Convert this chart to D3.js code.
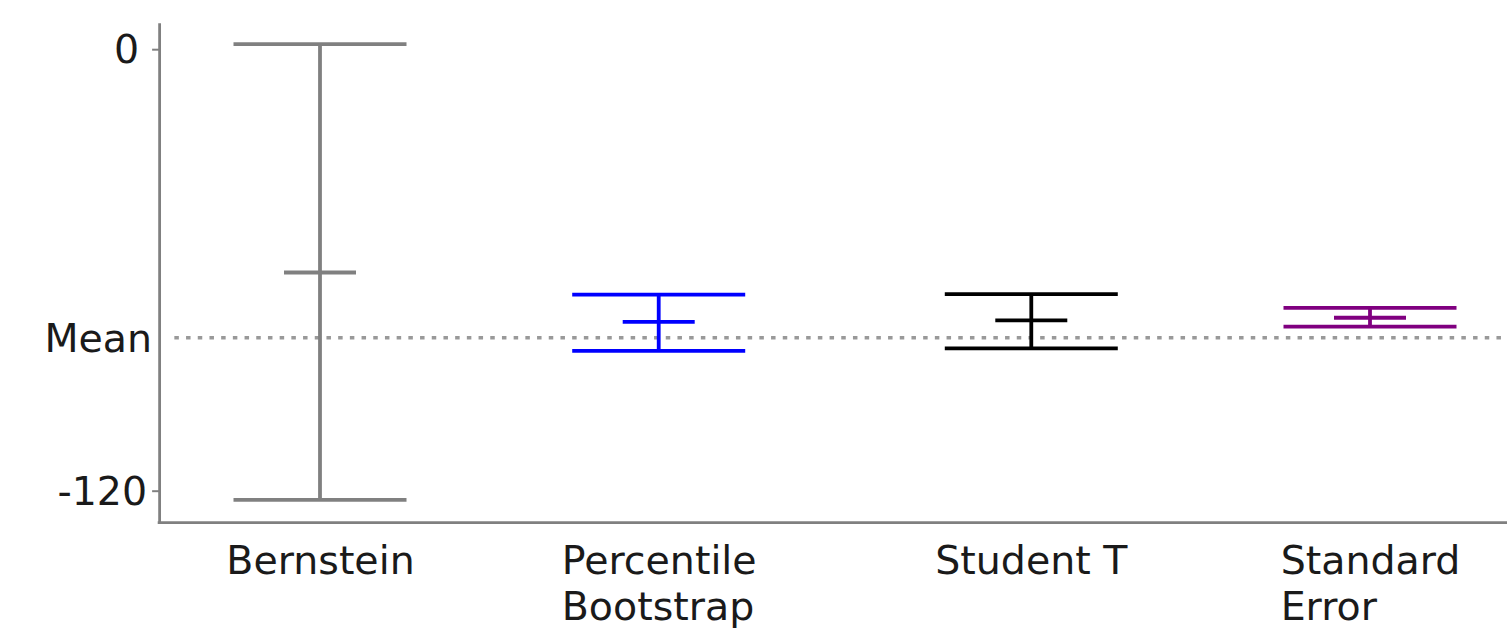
<!DOCTYPE html>
<html lang="en">
<head>
  <meta charset="UTF-8">
  <title>Confidence intervals</title>
  <style>
    html, body { margin: 0; padding: 0; background: #fff; }
    #main { width: 1507px; height: 629px; }
    text { font-family: "DejaVu Sans", sans-serif; fill: #1a1a1a; }
  </style>
</head>
<body>
  <div id="main"></div>
  <script src="https://d3js.org/d3.v7.min.js"></script>
  <script>
    // data
    const methods = ['Bernstein', 'Percentile\nBootstrap', 'Student T', 'Standard\nError'];
    const xPos = [0, 1, 2.1, 3.1];
    const upper = [1.4, -66.7, -66.6, -70.3];
    const center = [-60.7, -74.1, -73.7, -73.0];
    const lower = [-122.5, -82.0, -81.3, -75.4];
    const meanValue = -78.4;
    const yTickValues = [0, meanValue, -120];
    const yTickLabels = ['0', 'Mean', '-120'];
    const colors = ['#808080', '#0000ff', '#000000', '#800080'];

    const [width, height] = [1507, 629];
    const svg = d3.select('#main').append('svg')
      .attr('width', width)
      .attr('height', height)
      .attr('viewBox', `0 0 ${width} ${height}`);

    const axisColor = '#808080';
    const fontSize = 39.5;

    // scales
    const yScale = d3.scaleLinear().domain([-128.7, 7.2]).range([522.7, 22.7]);
    const xScale = d3.scaleLinear().domain([0, 3.1]).range([320, 1370]);
    const xLeft = xScale(-0.475);

    // mean reference line
    svg.append('line')
      .attr('x1', xScale(-0.43)).attr('x2', width - 6)
      .attr('y1', yScale(meanValue)).attr('y2', yScale(meanValue))
      .attr('stroke', '#999')
      .attr('stroke-width', 3.5)
      .attr('stroke-dasharray', '4.5 7.2');

    // error bars
    const capHalf = 86.5;
    const midHalf = 36;
    const bars = svg.append('g').selectAll('g')
      .data(methods.map((m, i) => ({ m, x: xPos[i], lo: lower[i], hi: upper[i], c: center[i], col: colors[i] })))
      .join('g')
      .attr('stroke', d => d.col)
      .attr('stroke-width', 3.8)
      .attr('fill', 'none');

    bars.append('line')
      .attr('x1', d => xScale(d.x)).attr('x2', d => xScale(d.x))
      .attr('y1', d => yScale(d.hi)).attr('y2', d => yScale(d.lo));
    bars.append('line')
      .attr('x1', d => xScale(d.x) - capHalf).attr('x2', d => xScale(d.x) + capHalf)
      .attr('y1', d => yScale(d.hi)).attr('y2', d => yScale(d.hi));
    bars.append('line')
      .attr('x1', d => xScale(d.x) - capHalf).attr('x2', d => xScale(d.x) + capHalf)
      .attr('y1', d => yScale(d.lo)).attr('y2', d => yScale(d.lo));
    bars.append('line')
      .attr('x1', d => xScale(d.x) - midHalf).attr('x2', d => xScale(d.x) + midHalf)
      .attr('y1', d => yScale(d.c)).attr('y2', d => yScale(d.c));

    // y axis
    const yAxis = d3.axisLeft(yScale)
      .tickValues(yTickValues)
      .tickFormat((d, i) => yTickLabels[i])
      .tickSize(7)
      .tickSizeOuter(0)
      .tickPadding(6);
    const gy = svg.append('g')
      .attr('transform', `translate(${xLeft},0)`)
      .call(yAxis);
    gy.select('.domain').attr('stroke', axisColor).attr('stroke-width', 2.8);
    gy.selectAll('.tick line').attr('stroke', axisColor).attr('stroke-width', 2)
      .attr('display', d => d === meanValue ? 'none' : null);
    gy.selectAll('.tick text')
      .attr('font-size', fontSize)
      .attr('fill', '#1a1a1a')
      .attr('font-family', '"DejaVu Sans", sans-serif')
      .attr('dy', '0.34em')
      .attr('x', d => d === meanValue ? -7 : (d === 0 ? -20 : -12));

    // x axis: spine plus multi-line labels
    const xAxis = d3.axisBottom(xScale)
      .tickValues(xPos)
      .tickSize(0)
      .tickFormat('');
    const gx = svg.append('g')
      .attr('transform', `translate(0,${yScale.range()[0]})`)
      .call(xAxis);
    gx.select('.domain').remove();
    gx.append('line')
      .attr('x1', xLeft - 1.4).attr('x2', width)
      .attr('y1', 0).attr('y2', 0)
      .attr('stroke', axisColor).attr('stroke-width', 2.8);

    gx.selectAll('.tick').each(function (d, i) {
      const lines = methods[i].split('\n');
      const t = d3.select(this).select('text')
        .attr('text-anchor', 'start')
        .attr('font-size', fontSize)
        .attr('font-family', '"DejaVu Sans", sans-serif')
        .attr('fill', '#1a1a1a')
        .attr('y', 51)
        .attr('dy', null)
        .text(null);
      lines.forEach((s, j) => {
        t.append('tspan').attr('x', 0).attr('dy', j === 0 ? 0 : fontSize * 1.17).text(s);
      });
      const w = t.node().getBBox().width;
      t.attr('transform', `translate(${-w / 2},0)`);
    });
  </script>
</body>
</html>
